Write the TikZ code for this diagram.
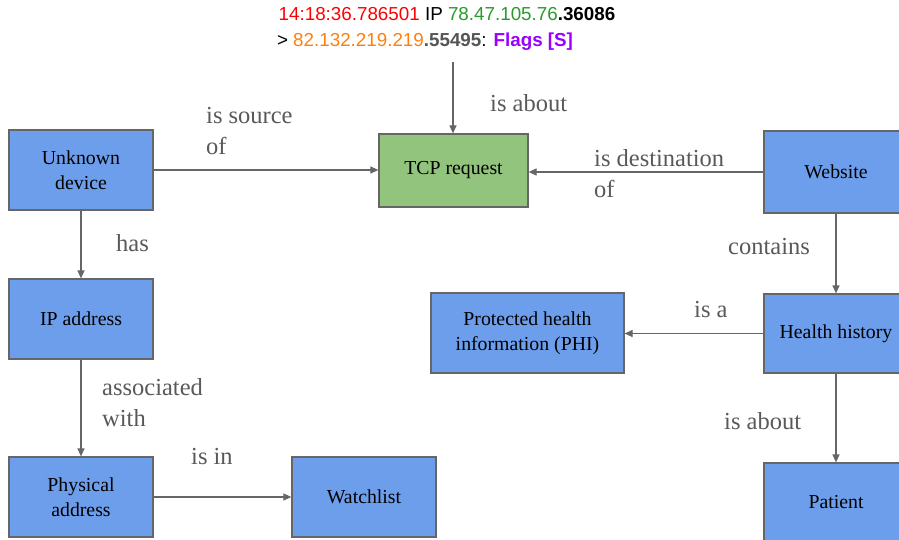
\documentclass[tikz,border=0pt]{standalone}
\usepackage{fontspec}
\setmainfont{Liberation Serif}
\newfontfamily\arialfont{Liberation Sans}
\usetikzlibrary{arrows.meta}
\definecolor{boxblue}{HTML}{6D9EEB}
\definecolor{boxgreen}{HTML}{93C47D}
\definecolor{edgegray}{HTML}{666666}
\definecolor{labgray}{HTML}{595959}
\definecolor{tsred}{HTML}{FF0000}
\definecolor{ipgreen}{HTML}{2A9A2A}
\definecolor{iporange}{HTML}{FF7F0E}
\definecolor{flagpurple}{HTML}{9900FF}
\definecolor{portgray}{HTML}{555555}
\tikzset{
  entity/.style={draw=edgegray, line width=1.2pt, fill=boxblue, minimum width=144pt, minimum height=80pt,
    inner sep=0pt, align=center, font=\fontsize{19.8}{25}\selectfont, text=black},
  reqbox/.style={entity, fill=boxgreen},
  rel/.style={draw=edgegray, line width=1.2pt, -{Triangle[length=8pt,width=7pt]}},
  rellabel/.style={text=labgray, font=\fontsize{24.5}{31}\selectfont, inner sep=0pt, align=left}
}
\begin{document}
\begin{tikzpicture}[x=1pt,y=-1pt]
\useasboundingbox (0,0) rectangle (899,540);
% top text
\node[font=\arialfont\fontsize{18.8}{26}\selectfont, align=center, inner sep=0pt] (pkt) at (447,29)
  {\textcolor{tsred}{14:18:36.786501} IP \textcolor{ipgreen}{78.47.105.76}\textbf{.36086}\\
   \hspace*{-44pt}> \textcolor{iporange}{82.132.219.219}\textbf{\textcolor{portgray}{.55495}}: \textbf{\textcolor{flagpurple}{Flags [S]}}};
\coordinate (pktend) at (453,62);
% nodes
\node[entity] (ud) at (81,170) {Unknown\\device};
\node[entity] (ip) at (81,319) {IP address};
\node[entity] (pa) at (81,497) {Physical\\address};
\node[entity] (wl) at (364,497) {Watchlist};
\node[reqbox, minimum width=149pt, minimum height=73pt] (tcp) at (453.5,170.5) {TCP request};
\node[entity, minimum height=82pt] (web) at (836,172) {Website};
\node[entity, minimum height=79pt] (hh) at (836,333.5) {Health history};
\node[entity, minimum width=193pt] (phi) at (527.5,333) {Protected health\\information (PHI)};
\node[entity, minimum height=78pt] (pat) at (836,502) {Patient};
% connectors
\draw[rel] (pktend) -- (tcp.north -| pktend);
\draw[rel] (ud.east) -- (tcp.west |- ud.east);
\draw[rel] (web.west) -- (tcp.east |- web.west);
\draw[rel] (ud) -- (ip);
\draw[rel] (ip) -- (pa);
\draw[rel] (pa) -- (wl);
\draw[rel] (web) -- (hh);
\draw[rel] (hh.west) -- (phi.east |- hh.west);
\draw[rel] (hh) -- (pat);
% labels
\node[rellabel, anchor=west] (l1) at (206,131) {is source\\of};
\node[rellabel, anchor=west] (l2) at (490,103) {is about};
\node[rellabel, anchor=west] (l3) at (594,174) {is destination\\of};
\node[rellabel, anchor=west] (l4) at (116,243) {has};
\node[rellabel, anchor=west] (l5) at (102,403) {associated\\with};
\node[rellabel, anchor=west] (l6) at (191,457) {is in};
\node[rellabel, anchor=west] (l7) at (728,247) {contains};
\node[rellabel, anchor=west] (l8) at (694,310) {is a};
\node[rellabel, anchor=west] (l9) at (724,421) {is about};
\end{tikzpicture}
\end{document}
